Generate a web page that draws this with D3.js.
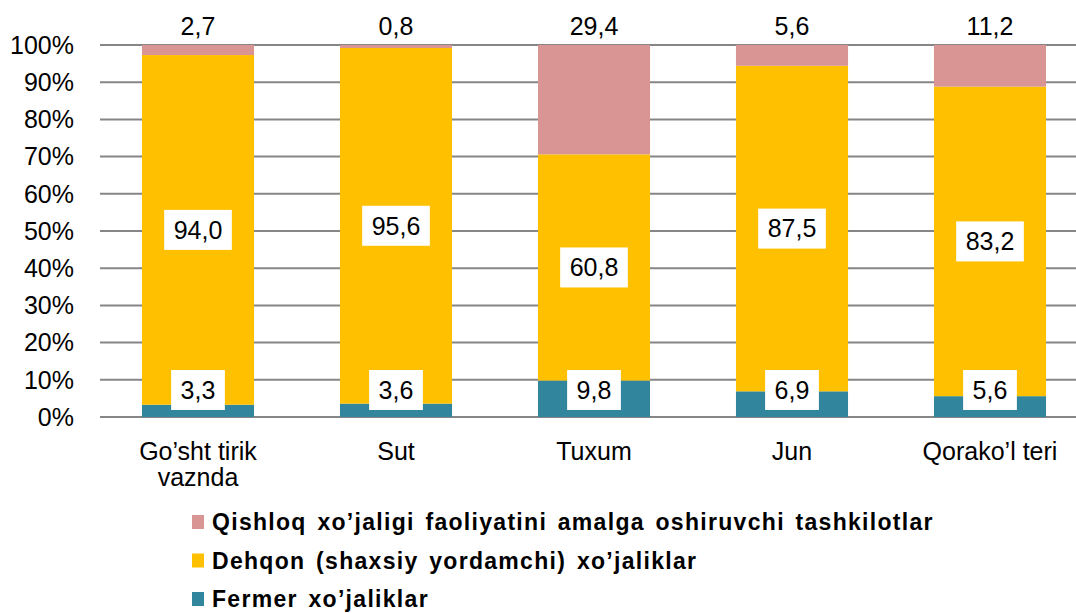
<!DOCTYPE html>
<html>
<head>
<meta charset="utf-8">
<script src="https://cdn.jsdelivr.net/npm/d3@7.9.0/dist/d3.min.js"></script>
<style>
  body { margin: 0; background: #fff; }
  svg { display: block; font-family: "Liberation Sans", Arial, sans-serif; }
</style>
</head>
<body>
<svg id="chart" width="1076" height="613"></svg>
<script>
// categories and values (percent shares)
const categories = ['Go’sht tirik vaznda', 'Sut', 'Tuxum', 'Jun', 'Qorako’l teri'];
const categoryLines = [['Go’sht tirik', 'vaznda'], ['Sut'], ['Tuxum'], ['Jun'], ['Qorako’l teri']];
const fermer = [3.3, 3.6, 9.8, 6.9, 5.6];
const dehqon = [94.0, 95.6, 60.8, 87.5, 83.2];
const qishloq = [2.7, 0.8, 29.4, 5.6, 11.2];
const yTicks = [0, 10, 20, 30, 40, 50, 60, 70, 80, 90, 100];

const seriesNames = [
  'Fermer xo’jaliklar',
  'Dehqon (shaxsiy yordamchi) xo’jaliklar',
  'Qishloq xo’jaligi faoliyatini amalga oshiruvchi tashkilotlar'
];
const colors = ['#31859C', '#FFC000', '#D99594'];

const svg = d3.select('#chart');
const W = 1076;
const FS = 25;

const x = d3.scaleBand()
  .domain(categories)
  .range([99, 1089])
  .paddingInner(0.434)
  .paddingOuter(0.217);

const y = d3.scaleLinear().domain([0, 100]).range([417, 45]);

const fmt = (v) => d3.format('.1f')(v).replace('.', ',');

// gridlines
svg.append('g')
  .selectAll('line')
  .data(yTicks)
  .join('line')
  .attr('x1', 100)
  .attr('x2', W)
  .attr('y1', (d) => y(d))
  .attr('y2', (d) => y(d))
  .attr('stroke', '#868686')
  .attr('stroke-width', 2);

// y tick labels
svg.append('g')
  .selectAll('text')
  .data(yTicks)
  .join('text')
  .attr('x', 74)
  .attr('y', (d) => y(d))
  .attr('dy', '0.35em')
  .attr('text-anchor', 'end')
  .attr('font-size', FS)
  .attr('fill', '#000')
  .text((d) => d + '%');

// stacked data
const rows = categories.map((c, i) => ({ cat: c, s0: fermer[i], s1: dehqon[i], s2: qishloq[i] }));
const stack = d3.stack().keys(['s0', 's1', 's2']);
const stacked = stack(rows);

const barG = svg.append('g');
stacked.forEach((layer, li) => {
  barG.append('g')
    .selectAll('rect')
    .data(layer)
    .join('rect')
    .attr('x', (d) => x(d.data.cat))
    .attr('width', x.bandwidth())
    .attr('y', (d) => y(d[1]))
    .attr('height', (d) => y(d[0]) - y(d[1]))
    .attr('fill', colors[li]);
});

// boxed labels
function boxLabel(g, cx, cy, txt) {
  const t = g.append('text')
    .attr('x', cx)
    .attr('y', cy)
    .attr('dy', '0.35em')
    .attr('text-anchor', 'middle')
    .attr('font-size', FS)
    .attr('fill', '#000')
    .text(txt);
  const bb = t.node().getBBox();
  g.insert('rect', 'text')
    .attr('x', cx - bb.width / 2 - 9.5)
    .attr('y', cy - 20)
    .attr('width', bb.width + 19)
    .attr('height', 40)
    .attr('fill', '#fff');
}

const labelG = svg.append('g');
// dehqon labels: centre of the yellow segment
stacked[1].forEach((d) => {
  boxLabel(labelG.append('g'), x(d.data.cat) + x.bandwidth() / 2, (y(d[0]) + y(d[1])) / 2, fmt(d.data.s1));
});
// fermer labels: near the base
stacked[0].forEach((d) => {
  boxLabel(labelG.append('g'), x(d.data.cat) + x.bandwidth() / 2, y(0) - 27, fmt(d.data.s0));
});
// qishloq labels: above the bar
labelG.append('g')
  .selectAll('text')
  .data(stacked[2])
  .join('text')
  .attr('x', (d) => x(d.data.cat) + x.bandwidth() / 2)
  .attr('y', y(100) - 10)
  .attr('text-anchor', 'middle')
  .attr('font-size', FS)
  .attr('fill', '#000')
  .text((d) => fmt(d.data.s2));

// category labels, one text per line
const catG = svg.append('g');
categories.forEach((c, i) => {
  categoryLines[i].forEach((line, li) => {
    catG.append('text')
      .attr('x', x(c) + x.bandwidth() / 2)
      .attr('y', 460 + li * 26)
      .attr('text-anchor', 'middle')
      .attr('font-size', FS)
      .attr('fill', '#000')
      .text(line);
  });
});

// legend (top entry is the top series)
const legendOrder = [2, 1, 0];
const legend = svg.append('g');
legendOrder.forEach((si, row) => {
  const cy = 522 + row * 38.5;
  legend.append('rect')
    .attr('x', 192)
    .attr('y', cy - 7)
    .attr('width', 12)
    .attr('height', 14)
    .attr('fill', colors[si]);
  legend.append('text')
    .attr('x', 212)
    .attr('y', cy)
    .attr('dy', '0.35em')
    .attr('font-size', 23)
    .attr('font-weight', 'bold')
    .attr('letter-spacing', 1.3)
    .attr('word-spacing', 3)
    .attr('fill', '#000')
    .text(seriesNames[si]);
});
</script>
</body>
</html>
